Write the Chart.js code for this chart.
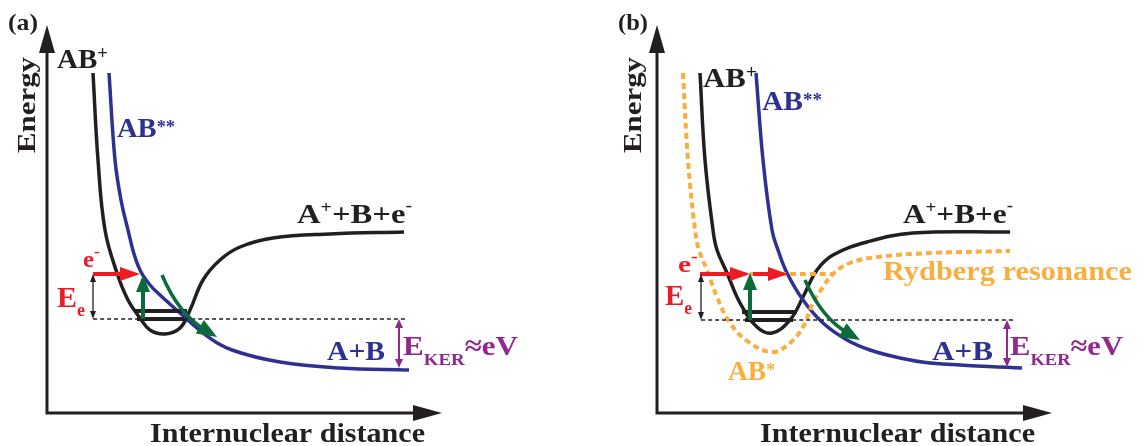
<!DOCTYPE html>
<html lang="en">
<head>
<meta charset="UTF-8">
<title>Potential energy curves</title>
<script src="https://cdn.jsdelivr.net/npm/chart.js"></script>
<style>
  body { margin: 0; background: #fff; }
  .panel { position: absolute; top: 0; }
</style>
</head>
<body>
<div class="panel" style="left:0"><canvas id="chartA" width="571" height="446"></canvas></div>
<div class="panel" style="left:571px"><canvas id="chartB" width="572" height="446"></canvas></div>
<script>
// r = internuclear distance, E = energy (arbitrary units, axis corner = 0,0)
// ---- panel (a)
const abPlusA = [[4.6,34.0],[5.1,25.3],[5.8,18.3],[7.0,14.0],[8.1,11.3],[9.3,9.5],[10.3,8.3],[11.8,7.9],
  [13.3,8.5],[14.3,10.3],[15.6,13.3],[17.3,15.3],[19.3,16.6],[22.6,17.5],[28.3,17.9],[35.7,18.1]];
const abStarStarA = [[6.2,34.0],[6.8,25.3],[7.4,21.3],[8.1,18.3],[8.7,15.9],[9.4,14.1],[10.3,12.8],[11.3,11.8],
  [13.3,10.0],[16.0,7.7],[18.5,6.3],[23.3,5.1],[29.3,4.5],[36.2,4.3]];
const levelsA = [[8.7,14.0,10.2],[9.0,13.7,9.4]];   // [rStart, rEnd, E]
const groundLineA = [[4.6,9.4],[36.0,9.4]];
const electronA = [[4.6,13.9],[9.3,13.9]];
const exciteA = [[9.6,9.4],[9.6,13.8]];
const dissocA = [[11.5,13.8],[13.7,10.3],[17.0,7.6]];
const eGapA = [[4.6,13.9],[4.6,9.4]];
const kerA = [[35.2,9.4],[35.2,4.5]];

// ---- panel (b)
const abPlusB = [[4.3,34.0],[4.8,25.3],[5.6,18.3],[6.0,16.3],[7.0,14.0],[8.3,11.0],[10.0,8.6],[11.5,8.0],
  [13.3,9.3],[14.6,11.6],[16.0,14.3],[17.6,15.8],[21.0,17.1],[25.6,18.0],[35.3,18.1]];
const abStarStarB = [[9.9,34.0],[10.6,25.3],[11.5,18.3],[12.1,16.3],[13.0,14.0],[14.6,11.3],[16.6,9.0],
  [19.0,7.3],[21.3,6.3],[24.3,5.5],[27.3,5.0],[36.5,4.5]];
const abStarB = [[2.6,34.0],[3.1,25.3],[3.8,18.3],[4.2,16.3],[5.0,14.3],[6.0,11.6],[7.3,9.0],[9.3,7.0],
  [11.6,6.1],[13.3,7.0],[14.6,8.6],[15.6,11.0],[16.6,12.6],[17.6,13.9],[19.3,15.0],[22.0,15.6],[27.6,16.0],[35.3,16.2]];
const rydbergB = [[4.3,13.9],[17.6,13.9]];
const levelsB = [[8.5,14.0,10.1],[8.8,13.6,9.3]];
const groundLineB = [[4.4,9.3],[35.6,9.3]];
const electronB1 = [[4.3,13.9],[9.3,13.9]];
const electronB2 = [[9.6,13.9],[13.1,13.9]];
const exciteB = [[9.3,9.3],[9.3,14.0]];
const dissocB = [[14.8,13.3],[17.0,9.9],[20.3,7.3]];
const eGapB = [[4.4,13.9],[4.4,9.3]];
const kerB = [[35.0,9.3],[35.0,4.6]];

const C = { black: '#231f20', blue: '#2e3192', red: '#ed1c24', green: '#0b6b3a', orange: '#f9ae3f', purple: '#92278f' };
const SERIF = '"Liberation Serif", "DejaVu Serif", serif';

const pts = a => a.map(([x, y]) => ({ x, y }));
function curve(data, color, extra) {
  return Object.assign({ data: pts(data), showLine: true, borderColor: color, borderWidth: 3.5,
    pointRadius: 0, tension: 0.4, fill: false }, extra || {});
}
function levelSets(levels) {
  return levels.map(([a, b, e]) => curve([[a, e], [b, e]], C.black, { borderWidth: 4 }));
}

function head(ctx, x1, y1, x2, y2, len, half, color) {
  const a = Math.atan2(y2 - y1, x2 - x1), c = Math.cos(a), s = Math.sin(a);
  ctx.fillStyle = color;
  ctx.beginPath();
  ctx.moveTo(x2, y2);
  ctx.lineTo(x2 - len * c + half * s, y2 - len * s - half * c);
  ctx.lineTo(x2 - len * c - half * s, y2 - len * s + half * c);
  ctx.closePath();
  ctx.fill();
}

function drawRich(ctx, lab, px, py) {
  let w = 0;
  lab.parts.forEach(p => { ctx.font = `bold ${p.size}px ${SERIF}`; p.w = ctx.measureText(p.t).width; w += p.w; });
  const k = lab.width ? lab.width / w : 1;
  ctx.save();
  ctx.translate(px, py);
  if (lab.rot) ctx.rotate(lab.rot);
  ctx.scale(k, 1);
  ctx.textBaseline = 'alphabetic';
  let cx = lab.center ? -w / 2 : 0;
  lab.parts.forEach(p => {
    ctx.font = `bold ${p.size}px ${SERIF}`;
    ctx.fillStyle = p.color || lab.color;
    ctx.fillText(p.t, cx, p.dy || 0);
    cx += p.w;
  });
  ctx.restore();
}

const schematic = {
  id: 'schematic',
  afterDatasetsDraw(chart, args, opts) {
    const ctx = chart.ctx, sx = chart.scales.x, sy = chart.scales.y;
    const X = v => sx.getPixelForValue(v), Y = v => sy.getPixelForValue(v);
    ctx.save();
    // axes with arrow heads
    ctx.strokeStyle = C.black; ctx.lineWidth = 3; ctx.lineCap = 'butt';
    ctx.beginPath();
    ctx.moveTo(X(0), Y(36.6)); ctx.lineTo(X(0), Y(0)); ctx.lineTo(X(36.8), Y(0));
    ctx.stroke();
    head(ctx, X(0), Y(0), X(0), Y(38.8), 28, 8, C.black);
    head(ctx, X(0), Y(0), X(39.5), Y(0), 29, 8, C.black);

    // arrows
    opts.arrows.forEach(a => {
      const p = a.pts.map(([r, e]) => [X(r), Y(e)]);
      const [len, half] = a.head;
      ctx.strokeStyle = a.color; ctx.lineWidth = a.width;
      const n = p.length;
      let tx, ty; // tangent origin at end
      if (n === 3) {
        const cx = 2 * p[1][0] - (p[0][0] + p[2][0]) / 2, cy = 2 * p[1][1] - (p[0][1] + p[2][1]) / 2;
        tx = cx; ty = cy;
        // stop the shaft a little before the tip
        const d = Math.hypot(p[2][0] - cx, p[2][1] - cy);
        const ex = p[2][0] - (p[2][0] - cx) / d * len * 0.7, ey = p[2][1] - (p[2][1] - cy) / d * len * 0.7;
        ctx.beginPath();
        ctx.moveTo(p[0][0], p[0][1]);
        ctx.quadraticCurveTo(cx, cy, ex, ey);
        ctx.stroke();
      } else {
        tx = p[0][0]; ty = p[0][1];
        const d = Math.hypot(p[1][0] - p[0][0], p[1][1] - p[0][1]);
        const ux = (p[1][0] - p[0][0]) / d, uy = (p[1][1] - p[0][1]) / d;
        const s0 = a.both ? len * 0.7 : 0;
        ctx.beginPath();
        ctx.moveTo(p[0][0] + ux * s0, p[0][1] + uy * s0);
        ctx.lineTo(p[1][0] - ux * len * 0.7, p[1][1] - uy * len * 0.7);
        ctx.stroke();
        if (a.both) head(ctx, p[1][0], p[1][1], p[0][0], p[0][1], len, half, a.color);
      }
      head(ctx, tx, ty, p[n - 1][0], p[n - 1][1], len, half, a.color);
    });

    // labels
    opts.labels.forEach(l => drawRich(ctx, l, X(l.x), Y(l.y)));
    ctx.restore();
  }
};

function labelsCommon(tag, energyX) {
  return [
    { x: -3.9, y: 38.3, color: C.black, width: 30, parts: [{ t: tag, size: 24 }] },
    { x: energyX, y: 30.8, color: C.black, width: 96, center: true, rot: -Math.PI / 2, parts: [{ t: 'Energy', size: 26 }] },
    { x: 10.3, y: -2.9, color: C.black, width: 275, parts: [{ t: 'Internuclear distance', size: 28 }] }
  ];
}
const ionLabel = (x, y, w) => ({ x, y, color: C.black, width: w, parts: [
  { t: 'A', size: 28 }, { t: '+', size: 17, dy: -10 }, { t: '+B+e', size: 28 }, { t: '-', size: 17, dy: -12 }] });
const abLabel = (x, y, w) => ({ x, y, color: C.blue, width: w, parts: [{ t: 'A+B', size: 28 }] });
const kerLabel = (x, y, w) => ({ x, y, color: C.purple, width: w, parts: [
  { t: 'E', size: 28 }, { t: 'KER', size: 17, dy: 10 }, { t: '\u2248eV', size: 28 }] });
const elLabel = (x, y, w) => ({ x, y, color: C.red, width: w, parts: [{ t: 'e', size: 24 }, { t: '-', size: 17, dy: -10 }] });
const eeLabel = (x, y, w) => ({ x, y, color: C.red, width: w, parts: [{ t: 'E', size: 30 }, { t: 'e', size: 18, dy: 9 }] });

function makeChart(id, xmin, datasets, arrows, labels) {
  return new Chart(document.getElementById(id), {
    type: 'scatter',
    data: { datasets },
    options: {
      responsive: false,
      animation: false,
      layout: { padding: 0 },
      scales: {
        x: { type: 'linear', min: xmin, max: xmin + document.getElementById(id).width / 10, display: false },
        y: { type: 'linear', min: -3.3, max: 41.3, display: false }
      },
      plugins: {
        legend: { display: false },
        tooltip: { enabled: false },
        schematic: { arrows, labels }
      }
    },
    plugins: [schematic]
  });
}

makeChart('chartA', -4.7, [
  curve(groundLineA, C.black, { borderWidth: 1.3, borderDash: [4, 3] }),
  ...levelSets(levelsA),
  curve(abStarStarA, C.blue),
  curve(abPlusA, C.black)
], [
  { pts: electronA, color: C.red, width: 4, head: [20, 7] },
  { pts: exciteA, color: C.green, width: 4, head: [17, 7] },
  { pts: dissocA, color: C.green, width: 3.5, head: [20, 8] },
  { pts: eGapA, color: C.black, width: 1.3, head: [8, 3], both: true },
  { pts: kerA, color: C.purple, width: 2, head: [9, 4], both: true }
], labelsCommon('(a)', -1.2).concat([
  { x: 1.0, y: 34.5, color: C.black, width: 51, parts: [{ t: 'AB', size: 28 }, { t: '+', size: 18, dy: -9 }] },
  { x: 7.0, y: 27.6, color: C.blue, width: 58, parts: [{ t: 'AB', size: 28 }, { t: '**', size: 18, dy: -4 }] },
  ionLabel(25.0, 19.0, 115),
  abLabel(28.0, 5.3, 58),
  kerLabel(35.6, 5.8, 115),
  elLabel(3.6, 14.6, 17),
  eeLabel(1.0, 10.6, 28)
]));

makeChart('chartB', -8.6, [
  curve(groundLineB, C.black, { borderWidth: 1.3, borderDash: [4, 3] }),
  curve(abStarB, C.orange, { borderWidth: 4, borderDash: [6, 4] }),
  curve(rydbergB, C.orange, { borderWidth: 4, borderDash: [6, 4] }),
  ...levelSets(levelsB),
  curve(abStarStarB, C.blue),
  curve(abPlusB, C.black)
], [
  { pts: electronB1, color: C.red, width: 4, head: [20, 7] },
  { pts: electronB2, color: C.red, width: 4, head: [20, 7] },
  { pts: exciteB, color: C.green, width: 4, head: [17, 7] },
  { pts: dissocB, color: C.green, width: 3.5, head: [20, 8] },
  { pts: eGapB, color: C.black, width: 1.3, head: [8, 3], both: true },
  { pts: kerB, color: C.purple, width: 2, head: [9, 4], both: true }
], labelsCommon('(b)', -1.6).concat([
  { x: 4.6, y: 32.6, color: C.black, width: 54, parts: [{ t: 'AB', size: 28 }, { t: '+', size: 18, dy: -9 }] },
  { x: 10.5, y: 30.3, color: C.blue, width: 60, parts: [{ t: 'AB', size: 28 }, { t: '**', size: 18, dy: -4 }] },
  { x: 7.1, y: 3.3, color: C.orange, width: 47, parts: [{ t: 'AB', size: 28 }, { t: '*', size: 18, dy: -4 }] },
  { x: 22.6, y: 13.3, color: C.orange, width: 249, parts: [{ t: 'Rydberg resonance', size: 28 }] },
  ionLabel(24.6, 19.0, 110),
  abLabel(27.5, 5.3, 61),
  kerLabel(35.3, 5.8, 113),
  elLabel(2.1, 14.1, 20),
  eeLabel(0.8, 10.8, 27)
]));
</script>
</body>
</html>
